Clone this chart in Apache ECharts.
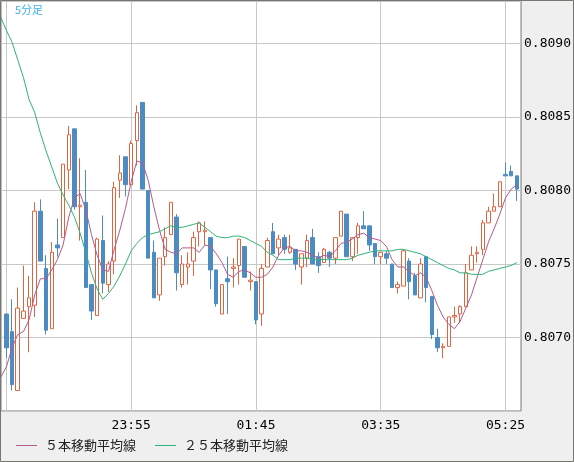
<!DOCTYPE html>
<html><head><meta charset="utf-8">
<script src="https://cdn.jsdelivr.net/npm/echarts@6/dist/echarts.min.js"></script>
<style>html,body{margin:0;padding:0;background:#efefef}#c{width:574px;height:462px}</style>
</head><body><div id="c"></div>
<script>
const times = [
'22:00','22:05','22:10','22:15','22:20','22:25','22:30','22:35','22:40','22:45','22:50','22:55',
'23:00','23:05','23:10','23:15','23:20','23:25','23:30','23:35','23:40','23:45','23:50','23:55',
'00:00','00:05','00:10','00:15','00:20','00:25','00:30','00:35','00:40','00:45','00:50','00:55',
'01:00','01:05','01:10','01:15','01:20','01:25','01:30','01:35','01:40','01:45','01:50','01:55',
'02:00','02:05','02:10','02:15','02:20','02:25','02:30','02:35','02:40','02:45','02:50','02:55',
'03:00','03:05','03:10','03:15','03:20','03:25','03:30','03:35','03:40','03:45','03:50','03:55',
'04:00','04:05','04:10','04:15','04:20','04:25','04:30','04:35','04:40','04:45','04:50','04:55',
'05:00','05:05','05:10','05:15','05:20','05:25','05:30','05:35'];
const labelTimes = ['23:55','01:45','03:35','05:25'];
const gridTimes = ['22:05','23:55','01:45','03:35','05:25'];
const yTicks = [0.8070, 0.8075, 0.8080, 0.8085, 0.8090];

// candles from 22:05 to 05:35 (times[1..91])
const open = [
0.80716,0.80704,0.80664,0.80713,0.80721,0.80722,0.80786,0.80747,0.80706,0.80763,
0.80768,0.80814,0.80842,0.80789,0.80792,0.80736,0.80715,0.80766,0.80736,0.80752,
0.80807,0.80823,0.80804,0.80834,0.80860,0.80800,0.80758,0.80729,0.80755,0.80770,
0.80782,0.80736,0.80748,0.80752,0.80772,0.80772,0.80768,0.80746,0.80716,0.80740,
0.80747,0.80749,0.80762,0.80738,0.80738,0.80716,0.80748,0.80772,0.80761,0.80768,
0.80758,0.80760,0.80748,0.80754,0.80768,0.80755,0.80751,0.80758,0.80754,0.80769,
0.80784,0.80755,0.80768,0.80776,0.80776,0.80764,0.80755,0.80757,0.80750,0.80734,
0.80735,0.80752,0.80742,0.80727,0.80755,0.80728,0.80700,0.80693,0.80694,0.80714,
0.80716,0.80721,0.80746,0.80757,0.80760,0.80778,0.80786,0.80789,0.80811,0.80813,
0.80810];
const close = [
0.80693,0.80668,0.80720,0.80718,0.80727,0.80786,0.80752,0.80705,0.80758,0.80761,
0.80818,0.80838,0.80789,0.80790,0.80734,0.80718,0.80767,0.80737,0.80750,0.80802,
0.80812,0.80804,0.80832,0.80853,0.80801,0.80754,0.80727,0.80754,0.80768,0.80792,
0.80744,0.80750,0.80750,0.80768,0.80778,0.80773,0.80746,0.80723,0.80736,0.80738,
0.80748,0.80767,0.80741,0.80739,0.80712,0.80747,0.80766,0.80757,0.80767,0.80760,
0.80761,0.80750,0.80757,0.80766,0.80750,0.80749,0.80760,0.80754,0.80768,0.80786,
0.80755,0.80768,0.80776,0.80774,0.80763,0.80755,0.80758,0.80754,0.80734,0.80736,
0.80759,0.80738,0.80729,0.80750,0.80734,0.80702,0.80693,0.80694,0.80714,0.80715,
0.80721,0.80744,0.80756,0.80758,0.80778,0.80786,0.80789,0.80806,0.80810,0.80810,
0.80801];
const low = [
0.80686,0.80664,0.80664,0.80713,0.80690,0.80714,0.80752,0.80702,0.80706,0.80755,
0.80768,0.80801,0.80787,0.80766,0.80734,0.80712,0.80715,0.80730,0.80731,0.80743,
0.80795,0.80796,0.80804,0.80817,0.80801,0.80754,0.80727,0.80725,0.80749,0.80770,
0.80732,0.80734,0.80736,0.80742,0.80762,0.80763,0.80733,0.80721,0.80716,0.80716,
0.80734,0.80736,0.80741,0.80732,0.80709,0.80708,0.80748,0.80757,0.80756,0.80757,
0.80757,0.80746,0.80736,0.80748,0.80750,0.80744,0.80751,0.80748,0.80750,0.80769,
0.80755,0.80752,0.80757,0.80774,0.80759,0.80750,0.80750,0.80750,0.80734,0.80730,
0.80735,0.80726,0.80729,0.80727,0.80724,0.80699,0.80690,0.80686,0.80694,0.80710,
0.80710,0.80721,0.80746,0.80751,0.80756,0.80778,0.80786,0.80789,0.80810,0.80810,
0.80793];
const high = [
0.80716,0.80726,0.80734,0.80749,0.80742,0.80792,0.80794,0.80756,0.80765,0.80781,
0.80818,0.80844,0.80842,0.80822,0.80814,0.80736,0.80768,0.80783,0.80752,0.80806,
0.80824,0.80823,0.80834,0.80858,0.80860,0.80800,0.80766,0.80754,0.80775,0.80792,
0.80784,0.80756,0.80758,0.80772,0.80779,0.80779,0.80768,0.80746,0.80736,0.80755,
0.80754,0.80767,0.80762,0.80745,0.80738,0.80750,0.80768,0.80778,0.80770,0.80770,
0.80770,0.80760,0.80757,0.80770,0.80774,0.80758,0.80761,0.80759,0.80768,0.80786,
0.80784,0.80768,0.80778,0.80786,0.80776,0.80764,0.80758,0.80759,0.80750,0.80738,
0.80760,0.80754,0.80744,0.80754,0.80755,0.80728,0.80706,0.80696,0.80714,0.80721,
0.80722,0.80750,0.80762,0.80762,0.80780,0.80789,0.80798,0.80806,0.80819,0.80817,
0.80810];
// moving averages, times[0..91]
const ma5 = [0.80673,
0.80680,0.80693,0.80702,0.80704,0.80712,0.80729,0.80740,0.80740,0.80746,0.80753,
0.80763,0.80782,0.80795,0.80798,0.80787,0.80770,0.80756,0.80746,0.80745,0.80760,
0.80773,0.80788,0.80806,0.80820,0.80819,0.80807,0.80789,0.80773,0.80760,0.80758,
0.80757,0.80761,0.80761,0.80761,0.80758,0.80763,0.80762,0.80757,0.80751,0.80743,
0.80741,0.80745,0.80746,0.80744,0.80741,0.80741,0.80743,0.80748,0.80756,0.80761,
0.80762,0.80759,0.80759,0.80758,0.80756,0.80754,0.80756,0.80755,0.80759,0.80764,
0.80765,0.80767,0.80770,0.80771,0.80768,0.80767,0.80766,0.80762,0.80753,0.80748,
0.80748,0.80745,0.80742,0.80744,0.80741,0.80732,0.80722,0.80714,0.80709,0.80706,
0.80711,0.80720,0.80729,0.80741,0.80753,0.80765,0.80774,0.80784,0.80795,0.80801,
0.80804];
const ma25 = [0.80918,
0.80909,0.80901,0.80889,0.80877,0.80862,0.80853,0.80839,0.80827,0.80816,0.80805,
0.80797,0.80790,0.80782,0.80771,0.80758,0.80744,0.80733,0.80726,0.80730,0.80735,
0.80742,0.80750,0.80759,0.80764,0.80768,0.80770,0.80771,0.80772,0.80774,0.80776,
0.80775,0.80775,0.80776,0.80777,0.80778,0.80775,0.80772,0.80769,0.80768,0.80768,
0.80769,0.80769,0.80768,0.80766,0.80764,0.80762,0.80758,0.80756,0.80753,0.80753,
0.80753,0.80754,0.80754,0.80754,0.80753,0.80753,0.80753,0.80753,0.80753,0.80753,
0.80753,0.80754,0.80756,0.80757,0.80758,0.80759,0.80759,0.80759,0.80759,0.80760,
0.80760,0.80759,0.80758,0.80757,0.80755,0.80753,0.80751,0.80749,0.80747,0.80746,
0.80744,0.80744,0.80743,0.80743,0.80743,0.80745,0.80746,0.80747,0.80748,0.80749,
0.80751];

const candleData = open.map((o, i) => [i + 1, o, close[i], low[i], high[i]]);
const ma5Data = ma5.map((v, i) => [i, v]);
const ma25Data = ma25.map((v, i) => [i, v]);
const idx = t => times.indexOf(t);

const chart = echarts.init(document.getElementById('c'));
const monoFont = 'DejaVu Sans Mono';
chart.setOption({
  animation: false,
  backgroundColor: '#efefef',
  graphic: [
    {type: 'rect', z: 100, silent: true, shape: {x: 0.5, y: 0.5, width: 573, height: 461},
     style: {fill: 'none', stroke: '#77776f', lineWidth: 1}},
    {type: 'text', z: 100, x: 15, y: 4,
     style: {text: '5分足', fill: '#3fb2ea', font: '11px "Noto Sans CJK JP"', verticalAlign: 'top', align: 'left'}}
  ],
  grid: {left: 1, right: 51, top: 1, bottom: 51, show: true, backgroundColor: '#ffffff',
         borderColor: '#77776f', borderWidth: 1},
  legend: {
    left: 16, top: 439, padding: 0, itemWidth: 21, itemHeight: 1, icon: 'rect', itemGap: 19,
    data: ['５本移動平均線', '２５本移動平均線'],
    textStyle: {fontFamily: 'Noto Sans CJK JP', fontSize: 13, color: '#222', padding: [0, 0, 0, 3]}
  },
  xAxis: {
    type: 'value', min: 0.05, max: 91.74,
    axisLine: {show: false},
    axisTick: {show: false, customValues: gridTimes.map(idx)},
    splitLine: {show: true, lineStyle: {color: '#c8c8c8', width: 1}},
    axisLabel: {customValues: labelTimes.map(idx), formatter: v => times[Math.round(v)],
                fontFamily: monoFont, fontSize: 13, color: '#000', margin: 8}
  },
  yAxis: {
    type: 'value', position: 'right', min: 0.8065, max: 0.80929, interval: 0.0005,
    axisLine: {show: false}, axisTick: {show: false},
    splitLine: {show: true, lineStyle: {color: '#c8c8c8', width: 1}},
    axisLabel: {showMinLabel: false, showMaxLabel: false, formatter: v => v.toFixed(4),
                fontFamily: monoFont, fontSize: 13, color: '#000', margin: 3}
  },
  series: [
    {type: 'candlestick', name: 'ローソク足', data: candleData, barWidth: 4,
     encode: {x: 0, y: [1, 2, 3, 4]},
     itemStyle: {color: '#ffffff', color0: '#4d8cc3', borderColor: '#dd6540', borderColor0: '#4d8cc3', borderWidth: 1}},
    {type: 'line', name: '５本移動平均線', data: ma5Data, showSymbol: false, symbol: 'none',
     lineStyle: {color: '#b45a8c', width: 1}, itemStyle: {color: '#b45a8c'}},
    {type: 'line', name: '２５本移動平均線', data: ma25Data, showSymbol: false, symbol: 'none',
     lineStyle: {color: '#2fb376', width: 1}, itemStyle: {color: '#2fb376'}}
  ]
});
</script></body></html>
